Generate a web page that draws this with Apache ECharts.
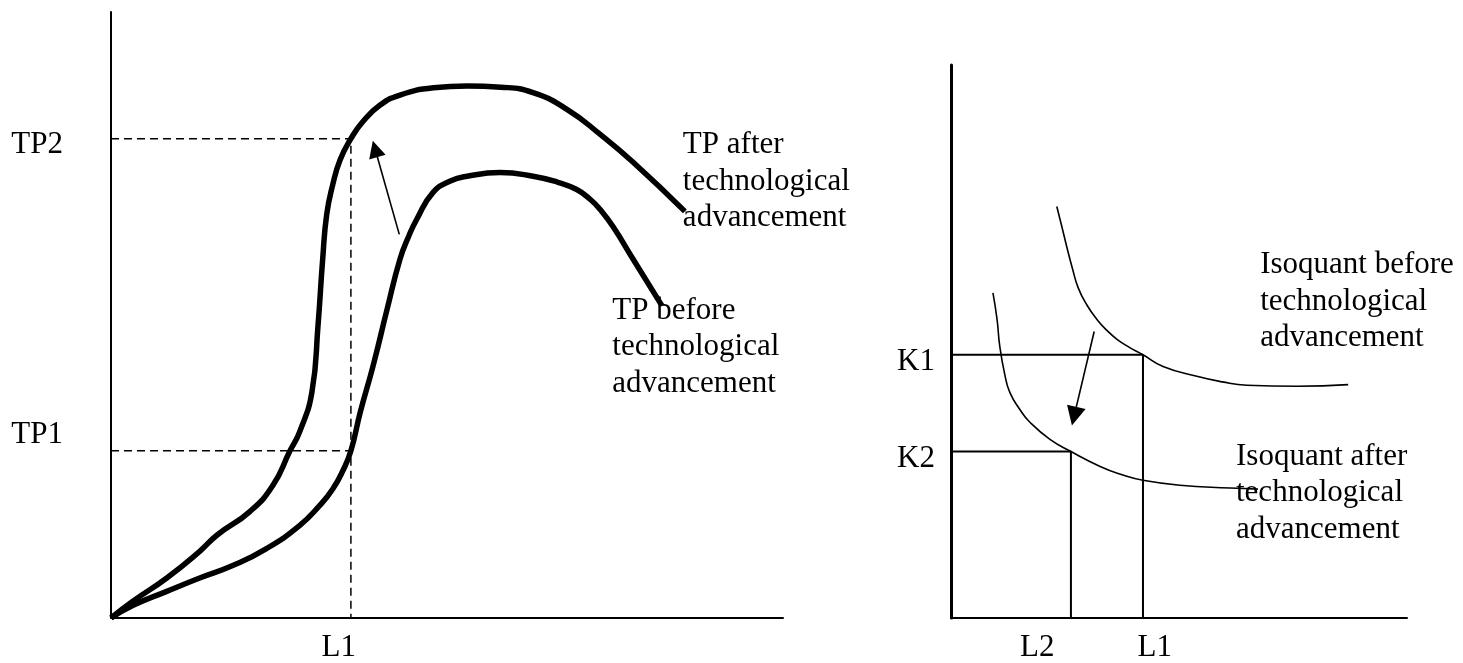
<!DOCTYPE html>
<html>
<head>
<meta charset="utf-8">
<script src="https://cdn.jsdelivr.net/npm/echarts@6/dist/echarts.min.js"></script>
<style>
  html, body { margin: 0; padding: 0; background: #fff; }
  #chart { width: 1463px; height: 663px; }
</style>
</head>
<body>
<div id="chart"></div>
<script>
// left panel: total product curves (x = labour, y = output, 0..100 units)
const tpAfter = [[0,0],[3.3,2.8],[8.3,6.6],[13.2,11.0],[15.8,13.7],[20.7,17.6],[24.1,21.9],
  [26.6,27.5],[28.1,30.8],[29.9,37.3],[30.8,48.2],[31.5,59.2],[32.1,66.6],[33.0,71.5],[34.1,75.6],
  [35.7,79.1],[37.4,81.8],[40.0,84.6],[43.0,86.3],[48.0,87.5],[53.0,87.8],[58.0,87.6],[62.8,86.7],
  [67.9,83.9],[72.8,79.8],[77.7,75.2],[85.4,67.1]]
const tpBefore = [[0,0],[3.3,2.1],[8.3,4.4],[13.2,6.6],[18.2,8.7],[23.2,11.5],[28.1,15.3],
  [31.0,18.5],[33.0,21.3],[34.5,24.3],[35.7,27.6],[37.1,34.0],[39.0,41.6],[41.1,51.0],[43.0,59.2],
  [44.3,63.0],[45.5,65.8],[47.9,70.2],[50.5,72.1],[53.0,72.9],[57.9,73.5],[62.8,72.9],[66.5,71.9],
  [69.3,70.7],[71.3,69.1],[72.8,67.4],[74.7,64.6],[77.7,59.2],[82.0,51.5]]
const tpGuide2 = [[0,79.1],[35.7,79.1],[35.7,0]]   // TP2 / L1
const tpGuide1 = [[0,27.6],[35.7,27.6]]            // TP1
const tpArrow = [[42.9,63.3],[39.3,77.4]]
const tpTickY = [30.3, 78.0]
const tpTickYLabels = ['TP1', 'TP2']
const tpTickX = [33.9]
const tpTickXLabels = ['L1']
const tpNotes = [
  { at: [85.1, 72.0], text: 'TP after\ntechnological\nadvancement' },
  { at: [74.6, 44.7], text: 'TP before\ntechnological\nadvancement' }
]

// right panel: isoquants (x = labour, y = capital, 0..100 units)
const isoBefore = [[23.2,74.4],[24.3,70.8],[25.4,67.1],[26.6,63.3],[27.9,59.7],[29.8,56.6],
  [32.0,54.0],[34.2,52.0],[36.4,50.4],[39.2,48.9],[42.1,47.6],[46.5,45.5],[53.9,43.7],
  [59.5,42.7],[64.9,42.1],[75.9,41.9],[87.1,42.2]]
const isoAfter = [[9.2,58.8],[10.1,54.0],[10.7,49.1],[11.8,44.0],[12.9,40.8],[15.1,37.7],
  [17.3,35.4],[21.7,32.3],[26.3,30.1],[32.7,27.4],[37.5,25.9],[42.1,24.9],[50.2,24.0],
  [61.2,23.5],[67.3,23.3]]
const isoGuide1 = [[0,47.6],[42.1,47.6],[42.1,0]]  // K1 / L1
const isoGuide2 = [[0,30.1],[26.3,30.1],[26.3,0]]  // K2 / L2
const isoArrow = [[31.4,51.8],[27.0,36.5]]
const isoTickY = [28.7, 46.4]
const isoTickYLabels = ['K2', 'K1']
const isoTickX = [18.9, 44.7]
const isoTickXLabels = ['L2', 'L1']
const isoNotes = [
  { at: [67.8, 57.2], text: 'Isoquant before\ntechnological\nadvancement' },
  { at: [62.5, 22.6], text: 'Isoquant after\ntechnological\nadvancement' }
]

const FONT = '"Liberation Serif", "Times New Roman", serif'
const textStyle = { fontFamily: FONT, fontSize: 31, color: '#000' }

function labelMap(values, labels) {
  return v => {
    const i = values.findIndex(x => Math.abs(x - v) < 1e-6)
    return i >= 0 ? labels[i] : ''
  }
}

function axisPair(grid, xTicks, xLabels, yTicks, yLabels, yMargin, axisWidthY) {
  return {
    x: {
      type: 'value', gridIndex: grid, min: 0, max: 100,
      axisLine: { lineStyle: { color: '#000', width: 2 } },
      axisTick: { show: false },
      splitLine: { show: false },
      axisLabel: { ...textStyle, margin: 14, customValues: xTicks, formatter: labelMap(xTicks, xLabels) }
    },
    y: {
      type: 'value', gridIndex: grid, min: 0, max: 100,
      axisLine: { show: true, lineStyle: { color: '#000', width: axisWidthY } },
      axisTick: { show: false },
      splitLine: { show: false },
      axisLabel: { ...textStyle, margin: yMargin, customValues: yTicks, formatter: labelMap(yTicks, yLabels) }
    }
  }
}

const left = axisPair(0, tpTickX, tpTickXLabels, tpTickY, tpTickYLabels, 48, 2)
const right = axisPair(1, isoTickX, isoTickXLabels, isoTickY, isoTickYLabels, 16, 3)

function curve(idx, data, width) {
  return {
    type: 'line', xAxisIndex: idx, yAxisIndex: idx, data, smooth: 0.5,
    symbol: 'none', silent: true,
    lineStyle: { color: '#000', width }
  }
}

function guide(idx, data, type) {
  return {
    type: 'line', xAxisIndex: idx, yAxisIndex: idx, data,
    symbol: 'none', silent: true,
    lineStyle: { color: '#000', width: type === 'dashed' ? 1.5 : 2, type: type === 'dashed' ? [8, 5] : 'solid' }
  }
}

// shift arrows drawn with the lines series (arrow head at the end)
function arrow(idx, pts, size) {
  return {
    type: 'lines', coordinateSystem: 'cartesian2d', xAxisIndex: idx, yAxisIndex: idx,
    silent: true, symbol: ['none', 'triangle'], symbolSize: size,
    lineStyle: { color: '#000', width: 1.6, opacity: 1, curveness: 0 },
    itemStyle: { color: '#000' },
    data: [{ coords: pts }]
  }
}

function notes(idx, list) {
  return list.map(n => ({
    type: 'scatter', xAxisIndex: idx, yAxisIndex: idx, silent: true,
    symbolSize: 0, data: [n.at],
    itemStyle: { opacity: 1 },
    label: {
      show: true, position: 'right', distance: 0, opacity: 1,
      formatter: n.text, ...textStyle, lineHeight: 36.5, align: 'left'
    }
  }))
}

const chart = echarts.init(document.getElementById('chart'))
chart.setOption({
  animation: false,
  backgroundColor: '#fff',
  grid: [
    { left: 111, top: 12, width: 672, height: 608 },
    { left: 951, top: 65, width: 456, height: 554 }
  ],
  xAxis: [left.x, right.x],
  yAxis: [left.y, right.y],
  series: [
    guide(0, tpGuide2, 'dashed'),
    guide(0, tpGuide1, 'dashed'),
    curve(0, tpAfter, 5.5),
    curve(0, tpBefore, 5.5),
    arrow(0, tpArrow, 17),
    ...notes(0, tpNotes),
    guide(1, isoGuide1, 'solid'),
    guide(1, isoGuide2, 'solid'),
    curve(1, isoBefore, 1.6),
    curve(1, isoAfter, 1.6),
    arrow(1, isoArrow, 19),
    ...notes(1, isoNotes)
  ]
})
</script>
</body>
</html>
